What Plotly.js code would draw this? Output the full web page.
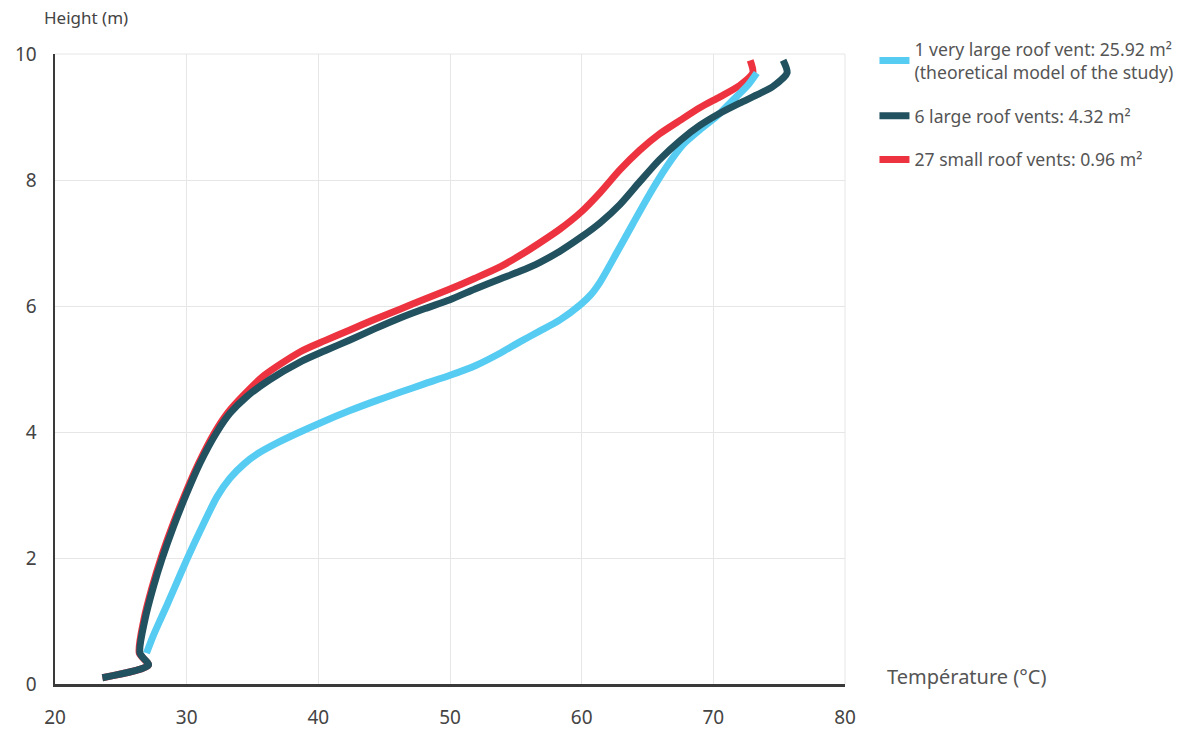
<!DOCTYPE html>
<html>
<head>
<meta charset="utf-8">
<script src="https://cdn.plot.ly/plotly-3.0.1.min.js"></script>
<style>html,body{margin:0;padding:0;background:#fff;}#chart{width:1179px;height:730px;}</style>
</head>
<body>
<div id="chart"></div>
<script>
// Series names
const seriesNames = [
  "1 very large roof vent: 25.92 m²<br>(theoretical model of the study)",
  "6 large roof vents: 4.32 m²",
  "27 small roof vents: 0.96 m²"
];

// 1 very large roof vent (temperature °C, height m)
const veryLargeTemp = [26.95, 27.45, 28.0, 28.5, 29.0, 30.0, 31.0, 32.3, 33.3, 34.4, 35.5, 36.8, 38.4, 40.1, 42.4, 44.3, 46.2, 48.0, 50.0, 52.0, 53.8, 55.3, 56.8, 58.35, 59.9, 60.7, 61.4, 62.65, 63.9, 65.2, 66.45, 67.7, 69.0, 70.2, 71.4, 72.6, 73.3];
const veryLargeHeight = [0.49, 0.76, 1.02, 1.25, 1.49, 1.97, 2.42, 2.97, 3.27, 3.5, 3.67, 3.82, 3.98, 4.14, 4.34, 4.49, 4.63, 4.76, 4.9, 5.06, 5.25, 5.43, 5.6, 5.78, 6.02, 6.18, 6.38, 6.84, 7.31, 7.79, 8.21, 8.56, 8.8, 9.0, 9.25, 9.5, 9.7];

// 6 large roof vents
const largeTemp = [23.6, 27.1, 26.45, 26.83, 27.47, 28.15, 29.0, 29.95, 31.0, 32.3, 33.3, 34.55, 36.3, 38.6, 40.5, 42.4, 44.3, 46.2, 48.1, 50.0, 51.9, 53.8, 55.3, 56.8, 58.35, 60.0, 61.4, 62.9, 64.4, 65.9, 67.5, 69.0, 70.5, 72.0, 73.3, 74.5, 75.6, 75.3];
const largeHeight = [0.1, 0.3, 0.49, 1.02, 1.54, 2.0, 2.5, 3.0, 3.5, 4.0, 4.3, 4.56, 4.83, 5.11, 5.29, 5.46, 5.64, 5.81, 5.96, 6.1, 6.27, 6.43, 6.55, 6.69, 6.87, 7.1, 7.32, 7.61, 7.97, 8.32, 8.63, 8.87, 9.06, 9.22, 9.35, 9.48, 9.7, 9.9];

// 27 small roof vents
const smallTemp = [23.6, 27.1, 26.4, 26.75, 27.38, 28.05, 28.9, 29.85, 30.9, 32.15, 33.1, 34.3, 35.9, 38.6, 40.5, 42.4, 44.3, 46.2, 48.1, 50.0, 51.9, 53.8, 55.3, 56.8, 58.35, 60.0, 61.4, 62.9, 64.4, 65.9, 67.5, 69.0, 70.5, 72.0, 73.0, 72.8];
const smallHeight = [0.1, 0.3, 0.49, 1.02, 1.54, 2.0, 2.5, 3.0, 3.5, 4.0, 4.3, 4.58, 4.9, 5.27, 5.45, 5.62, 5.79, 5.95, 6.11, 6.27, 6.44, 6.62, 6.8, 7.0, 7.22, 7.5, 7.8, 8.16, 8.47, 8.73, 8.95, 9.15, 9.32, 9.5, 9.7, 9.9];

const xTicks = [20, 30, 40, 50, 60, 70, 80];
const yTicks = [0, 2, 4, 6, 8, 10];

const colors = {blue: "#56CCF2", dark: "#22515F", red: "#EE3340"};
const FONT = "Noto Sans, Open Sans, sans-serif";
const LINE = {width: 7, shape: "spline", smoothing: 0.7};

const traces = [
  {x: smallTemp, y: smallHeight, name: seriesNames[2], legendrank: 3, legendgroup: "c",
   mode: "lines", line: Object.assign({color: colors.red}, LINE)},
  {x: veryLargeTemp, y: veryLargeHeight, name: seriesNames[0], legendrank: 1, legendgroup: "a",
   mode: "lines", line: Object.assign({color: colors.blue}, LINE)},
  {x: largeTemp, y: largeHeight, name: seriesNames[1], legendrank: 2, legendgroup: "b",
   mode: "lines", line: Object.assign({color: colors.dark}, LINE)}
];

const layout = {
  width: 1179, height: 730,
  margin: {l: 55, r: 334, t: 54, b: 46},
  paper_bgcolor: "#fff", plot_bgcolor: "#fff",
  font: {family: FONT, color: "#444"},
  showlegend: true,
  legend: {
    xref: "container", yref: "container",
    x: 0.7417, y: 0.9575, xanchor: "left", yanchor: "top",
    font: {family: FONT, size: 17.6, color: "#555"},
    tracegroupgap: 18, itemwidth: 30,
    bgcolor: "rgba(0,0,0,0)"
  },
  xaxis: {
    range: [20, 80], tickvals: xTicks, ticktext: xTicks.map(String),
    showgrid: true, gridcolor: "#e6e6e6", gridwidth: 1,
    showline: true, linecolor: "#3a3a3a", linewidth: 2.5,
    zeroline: false, ticks: "", ticklen: 0, ticklabelstandoff: 15,
    tickfont: {family: FONT, size: 19, color: "#444"},
    automargin: false
  },
  yaxis: {
    range: [0, 10], tickvals: yTicks, ticktext: yTicks.map(String),
    showgrid: true, gridcolor: "#e6e6e6", gridwidth: 1,
    showline: true, linecolor: "#3a3a3a", linewidth: 2.5,
    zeroline: false, ticks: "", ticklen: 0, ticklabelstandoff: 12,
    tickfont: {family: FONT, size: 19, color: "#444"},
    automargin: false
  },
  annotations: [
    {text: "Height (m)", xref: "paper", yref: "paper", x: -0.017, y: 1.036,
     xanchor: "left", yanchor: "bottom", showarrow: false,
     font: {family: FONT, size: 17, color: "#444"}},
    {text: "Température (°C)", xref: "paper", yref: "paper", x: 1.051, y: 0.012,
     xanchor: "left", yanchor: "middle", showarrow: false,
     font: {family: FONT, size: 20, color: "#555"}}
  ],
  shapes: [
    {type: "line", xref: "paper", yref: "paper", x0: 0, x1: 1, y0: 1, y1: 1, line: {color: "#e6e6e6", width: 1}, layer: "below"},
    {type: "line", xref: "paper", yref: "paper", x0: 1, x1: 1, y0: 0, y1: 1, line: {color: "#e6e6e6", width: 1}, layer: "below"}
  ]
};

Plotly.newPlot("chart", traces, layout, {displayModeBar: false, staticPlot: true});
</script>
</body>
</html>
